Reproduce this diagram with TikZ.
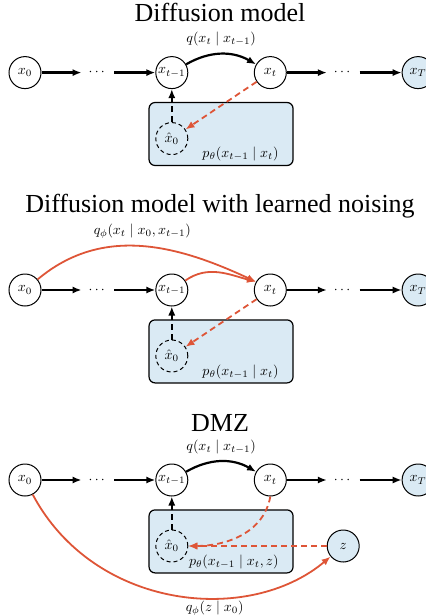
\documentclass[tikz,border=0pt]{standalone}
\usepackage{amsmath,amssymb}
\usepackage{graphicx}
\usepackage{fontspec}
\setmainfont{Liberation Serif}
\usetikzlibrary{arrows.meta, positioning, calc}
\definecolor{fillblue}{RGB}{218,234,244}
\definecolor{noisered}{RGB}{222,85,55}
% small math for all the labels
\newcommand{\lbm}[1]{\scalebox{0.7}{$#1$}}
\tikzset{
  var/.style={
    circle, draw, line width=0.5pt, minimum size=16pt, inner sep=0.5pt
  },
  obs/.style={var, fill=fillblue},
  hat/.style={var, dash pattern=on 2pt off 1.5pt},
  dts/.style={minimum size=16pt, inner sep=0pt},
  pbox/.style={
    rectangle, rounded corners=3pt, draw, line width=0.6pt,
    fill=fillblue, minimum width=72pt, minimum height=31.5pt
  },
  ttl/.style={font=\fontsize{13}{15}\selectfont, anchor=base},
  arr/.style={-{Latex[length=4.5pt,width=3.6pt]}, line width=1.1pt},
  darr/.style={arr, dash pattern=on 3pt off 2pt},
  rarr/.style={arr, draw=noisered, line width=0.9pt},
  rdarr/.style={rarr, dash pattern=on 3pt off 2pt}
}

\begin{document}
\begin{tikzpicture}[x=1pt, y=1pt, node distance=20pt]
  \useasboundingbox (0,0) rectangle (212.5,-307.5);

  %% Diffusion model
  \node[ttl] (ttla) at (110,-11) {Diffusion model};
  \node[var] (a0) at (12.5,-36.3) {\lbm{x_0}};
  \node[dts, right=of a0] (ad1) {\lbm{\cdots}};
  \node[var, right=20.5pt of ad1] (atm1) {\lbm{x_{t-1}}};
  \node[var, right=32.75pt of atm1] (at) {\lbm{x_t}};
  \node[dts, right=of at] (ad2) {\lbm{\cdots}};
  \node[obs, right=21pt of ad2] (aT) {\lbm{x_T}};
  \node[pbox] (abox) at ($(atm1)!0.5!(at)+(0,-30.7)$) {};
  \node[hat, below=16.5pt of atm1] (ah) {\lbm{\hat{x}_0}};
  \node[anchor=base east] (apl) at ($(abox.south east)+(-4,4.25)$)
       {\lbm{p_\theta(x_{t-1}\mid x_t)}};

  \draw[arr] (a0) -- (ad1);
  \draw[arr] (ad1) -- (atm1);
  \draw[arr] (atm1) to[bend left=30]
       node[above] (aq) {\lbm{q(x_t\mid x_{t-1})}} (at);
  \draw[arr] (at) -- (ad2);
  \draw[arr] (ad2) -- (aT);
  \draw[darr] (ah) -- (atm1);
  \draw[rdarr] (at) -- (ah);

  %% learned noising
  \node[ttl] (ttlb) at (110,-106.2) {Diffusion model with learned noising};
  \node[var] (b0) at (12.5,-145) {\lbm{x_0}};
  \node[dts, right=of b0] (bd1) {\lbm{\cdots}};
  \node[var, right=20.5pt of bd1] (btm1) {\lbm{x_{t-1}}};
  \node[var, right=32.75pt of btm1] (bt) {\lbm{x_t}};
  \node[dts, right=of bt] (bd2) {\lbm{\cdots}};
  \node[obs, right=21pt of bd2] (bT) {\lbm{x_T}};
  \node[pbox] (bbox) at ($(btm1)!0.5!(bt)+(0,-30.7)$) {};
  \node[hat, below=16.5pt of btm1] (bh) {\lbm{\hat{x}_0}};
  \node[anchor=base east] (bpl) at ($(bbox.south east)+(-4,4.25)$)
       {\lbm{p_\theta(x_{t-1}\mid x_t)}};

  \draw[arr] (b0) -- (bd1);
  \draw[arr] (bd1) -- (btm1);
  \draw[arr] (bt) -- (bd2);
  \draw[arr] (bd2) -- (bT);
  \draw[rarr] (b0) to[out=40, in=155]
       node[above] (bq) {\lbm{q_\phi(x_t\mid x_0, x_{t-1})}} (bt.150);
  \draw[rarr] (btm1) to[out=35, in=165] (bt.150);
  \draw[darr] (bh) -- (btm1);
  \draw[rdarr] (bt) -- (bh);

  %% DMZ
  \node[ttl] (ttlc) at (110,-215.5) {DMZ};
  \node[var] (c0) at (12.5,-240) {\lbm{x_0}};
  \node[dts, right=of c0] (cd1) {\lbm{\cdots}};
  \node[var, right=20.5pt of cd1] (ctm1) {\lbm{x_{t-1}}};
  \node[var, right=32.75pt of ctm1] (ct) {\lbm{x_t}};
  \node[dts, right=of ct] (cd2) {\lbm{\cdots}};
  \node[obs, right=21pt of cd2] (cT) {\lbm{x_T}};
  \node[pbox] (cbox) at ($(ctm1)!0.5!(ct)+(0,-30.7)$) {};
  \node[hat, below=16.5pt of ctm1] (ch) {\lbm{\hat{x}_0}};
  \node[obs] (cz) at (cd2 |- ch) {\lbm{z}};
  \node[anchor=base east] (cpl) at ($(cbox.south east)+(-4,4.25)$)
       {\lbm{p_\theta(x_{t-1}\mid x_t, z)}};

  \draw[arr] (c0) -- (cd1);
  \draw[arr] (cd1) -- (ctm1);
  \draw[arr] (ctm1) to[bend left=30]
       node[above] (cq) {\lbm{q(x_t\mid x_{t-1})}} (ct);
  \draw[arr] (ct) -- (cd2);
  \draw[arr] (cd2) -- (cT);
  \draw[darr] (ch) -- (ctm1);
  \draw[rdarr] (cz) -- (ch);
  \draw[rdarr] (ct.south) to[out=-100, in=0] (ch.east);
  \draw[rarr] (c0) to[out=-62, in=-140, out looseness=1.1, in looseness=0.9]
       node[below=-2pt, pos=0.62] (cqz) {\lbm{q_\phi(z\mid x_0)}} (cz);
\end{tikzpicture}
\end{document}
